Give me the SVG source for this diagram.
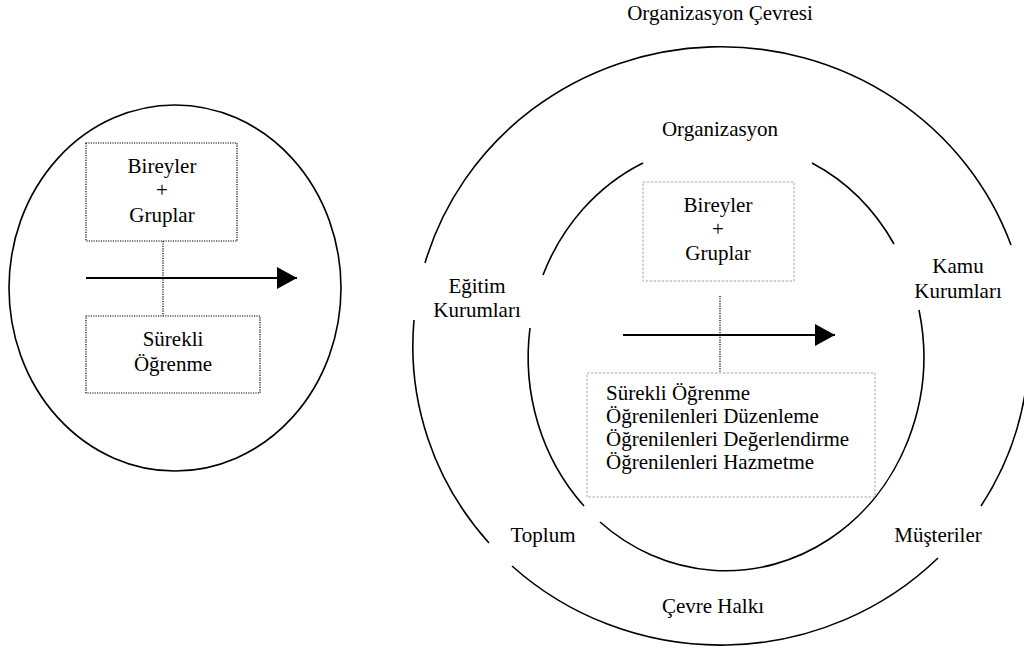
<svg xmlns="http://www.w3.org/2000/svg" width="1024" height="652" viewBox="0 0 1024 652">
<defs>
<style>
text{font-family:"Liberation Serif","Times New Roman",serif;font-size:21px;fill:#000}
.c{text-anchor:middle}
.ring{fill:none;stroke:#000;stroke-width:1.6}
.dot{fill:none;stroke:#000;stroke-width:1.2;stroke-dasharray:1.2 1.2}
.gray{fill:none;stroke:#a8a8a8;stroke-width:1;stroke-dasharray:2.5 1.5}
.arr{fill:none;stroke:#000;stroke-width:2;marker-end:url(#ah)}
</style>
<marker id="ah" markerUnits="userSpaceOnUse" markerWidth="22" markerHeight="24" refX="20" refY="11" orient="auto">
<path d="M0,0 L20,11 L0,22 Z" fill="#000"/>
</marker>
</defs>
<rect width="1024" height="652" fill="#fff"/>

<g id="left-circle">
<ellipse class="ring" cx="175" cy="288" rx="166" ry="183"/>
</g>
<g id="left-individuals">
<rect class="dot" x="86" y="143" width="151" height="98"/>
<text class="c" x="162" y="173">Bireyler</text>
<text class="c" x="162" y="197">+</text>
<text class="c" x="162" y="222">Gruplar</text>
</g>
<g id="left-learning">
<rect class="dot" x="86" y="316" width="174" height="77"/>
<text class="c" x="173" y="346">Sürekli</text>
<text class="c" x="173" y="371">Öğrenme</text>
</g>

<g id="outer-ring">
<path class="ring" d="M425,263 A308,299 0 0 1 1011,245"/>
<path class="ring" d="M414,320 A308,299 0 0 0 489,543"/>
<path class="ring" d="M512,566 A308,299 0 0 0 938,558"/>
<path class="ring" d="M981,506 A308,299 0 0 0 1027,380"/>
<text class="c" x="720" y="20">Organizasyon Çevresi</text>
</g>
<g id="inner-ring">
<path class="ring" d="M643,163 A198,214 0 0 0 543,275"/>
<path class="ring" d="M530,328 A198,214 0 0 0 584,506"/>
<path class="ring" d="M600,522 A198,214 0 0 0 919,310"/>
<path class="ring" d="M894,244 A198,214 0 0 0 812,163"/>
<text class="c" x="720" y="136">Organizasyon</text>
</g>
<g id="right-individuals">
<rect class="gray" x="643" y="182" width="151" height="99"/>
<text class="c" x="718" y="212">Bireyler</text>
<text class="c" x="718" y="236">+</text>
<text class="c" x="718" y="260">Gruplar</text>
</g>
<g id="right-learning">
<rect class="gray" x="587" y="373" width="288" height="124"/>
<text x="606" y="400">Sürekli Öğrenme</text>
<text x="606" y="423">Öğrenilenleri Düzenleme</text>
<text x="606" y="446">Öğrenilenleri Değerlendirme</text>
<text x="606" y="469">Öğrenilenleri Hazmetme</text>
</g>
<g id="label-egitim">
<text class="c" x="477" y="293">Eğitim</text>
<text class="c" x="477" y="317">Kurumları</text>
</g>
<g id="label-kamu">
<text class="c" x="958" y="273">Kamu</text>
<text class="c" x="958" y="298">Kurumları</text>
</g>
<g id="label-toplum"><text class="c" x="543" y="542">Toplum</text></g>
<g id="label-musteriler"><text class="c" x="938" y="542">Müşteriler</text></g>
<g id="label-cevre"><text class="c" x="713" y="613">Çevre Halkı</text></g>

<g id="connectors">
<line class="dot" x1="163" y1="241" x2="163" y2="316"/>
<line class="arr" x1="86" y1="278" x2="297" y2="278"/>
<line class="dot" x1="720" y1="296" x2="720" y2="372"/>
<line class="arr" x1="623" y1="335" x2="835" y2="335"/>
</g>
</svg>
